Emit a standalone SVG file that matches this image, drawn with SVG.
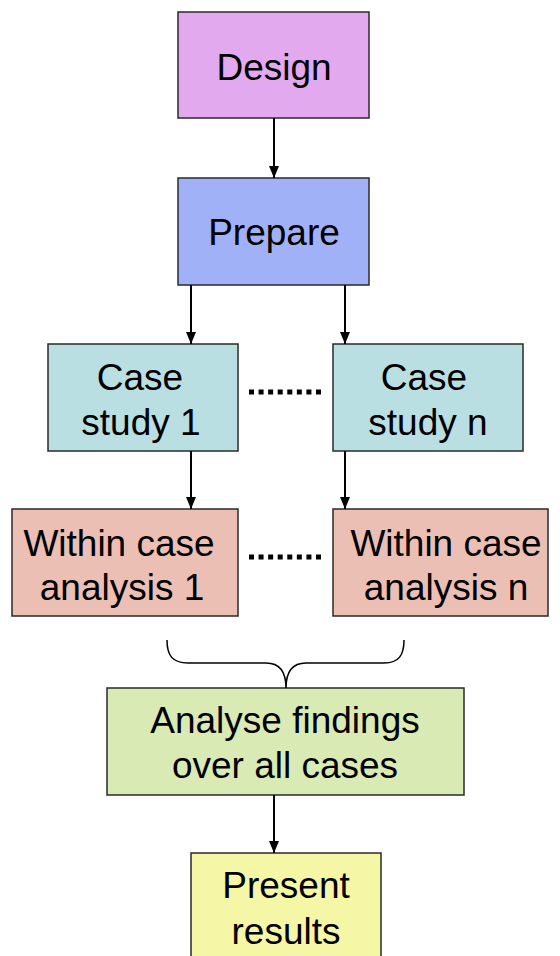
<svg xmlns="http://www.w3.org/2000/svg" width="560" height="956" viewBox="0 0 560 956">
<style>
.box{stroke:#2a2a2a;stroke-width:1.5}
.t{font-family:"Liberation Sans",Arial,sans-serif;font-size:37px;fill:#000;text-anchor:middle}
.c{stroke:#000;stroke-width:2;fill:none}
.dots{stroke:#000;stroke-width:5;stroke-dasharray:5 4.57;fill:none}
</style>
<defs>
<marker id="ah" markerWidth="12" markerHeight="12" viewBox="0 0 12 12" refX="12" refY="6" orient="auto" markerUnits="userSpaceOnUse">
<path d="M0,1 L12,6 L0,11 Z" fill="#000"/>
</marker>
</defs>
<rect width="560" height="956" fill="#fff"/>
<g id="design"><rect class="box" x="178" y="12" width="191" height="106" fill="#E3A9EF"/><text class="t" x="274" y="80">Design</text></g>
<g id="prepare"><rect class="box" x="178" y="178" width="191" height="107" fill="#A1B1F7"/><text class="t" x="274" y="245">Prepare</text></g>
<g id="case1"><rect class="box" x="48" y="344" width="190" height="107" fill="#B9DFE2"/><text class="t" x="140" y="390">Case</text><text class="t" x="141" y="435">study 1</text></g>
<g id="casen"><rect class="box" x="333" y="344" width="190" height="107" fill="#B9DFE2"/><text class="t" x="424" y="390">Case</text><text class="t" x="428" y="435">study n</text></g>
<g id="within1"><rect class="box" x="12" y="509" width="226" height="107" fill="#EBBFB3"/><text class="t" x="119" y="556">Within case</text><text class="t" x="122" y="600">analysis 1</text></g>
<g id="withinn"><rect class="box" x="333" y="509" width="215" height="107" fill="#EBBFB3"/><text class="t" x="446" y="556">Within case</text><text class="t" x="446" y="600">analysis n</text></g>
<g id="analyse"><rect class="box" x="107" y="688" width="357" height="107" fill="#DAEAB5"/><text class="t" x="285" y="733">Analyse findings</text><text class="t" x="285" y="778">over all cases</text></g>
<g id="present"><rect class="box" x="191" y="853" width="190" height="110" fill="#F5F6A6"/><text class="t" x="286" y="898">Present</text><text class="t" x="286" y="944">results</text></g>
<g id="connectors">
<line class="c" x1="274" y1="118" x2="274" y2="178" marker-end="url(#ah)"/>
<line class="c" x1="191" y1="285" x2="191" y2="344" marker-end="url(#ah)"/>
<line class="c" x1="345" y1="285" x2="345" y2="344" marker-end="url(#ah)"/>
<line class="c" x1="191" y1="451" x2="191" y2="509" marker-end="url(#ah)"/>
<line class="c" x1="345" y1="451" x2="345" y2="509" marker-end="url(#ah)"/>
<line class="c" x1="274" y1="795" x2="274" y2="853" marker-end="url(#ah)"/>
<line class="dots" x1="249" y1="392" x2="321" y2="392"/>
<line class="dots" x1="249" y1="557" x2="321" y2="557"/>
<path d="M167,640 C167,655 172,663 188,663 L266,663 C280,663 286,673 286,688 C286,673 292,663 306,663 L384,663 C399,663 404,655 404,640" fill="none" stroke="#000" stroke-width="1.5"/>
</g>
</svg>
